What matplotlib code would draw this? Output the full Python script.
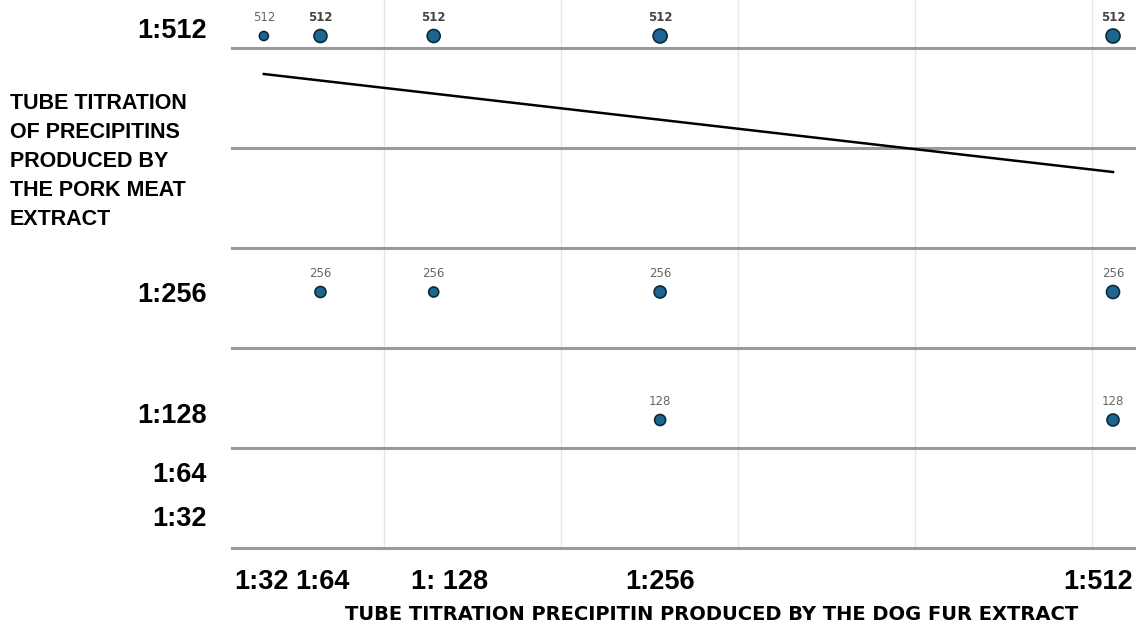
import matplotlib.pyplot as plt
from matplotlib.transforms import ScaledTranslation

# Dog fur titer (x) vs pork meat titer (y), reciprocal dilutions
dog_titer = [32, 64, 128, 256, 512, 64, 128, 256, 512, 256, 512]
pork_titer = [512, 512, 512, 512, 512, 256, 256, 256, 256, 128, 128]
point_labels = ['512', '512', '512', '512', '512', '256', '256', '256', '256', '128', '128']
bold_label = [False, True, True, True, True, False, False, False, False, False, False]
dot_size_px = [9, 13, 13, 14, 14, 11, 10, 12, 13, 11, 12]

# trend line end points
trend_x = [32, 512]
trend_y = [474, 376]

tick_values = [32, 64, 128, 256, 512]
tick_labels_x = ['1:32', '1:64', '1: 128', '1:256', '1:512']
tick_labels_y = ['1:32', '1:64', '1:128', '1:256', '1:512']

BOLD = ['Liberation Sans', 'DejaVu Sans']

fig = plt.figure(figsize=(11.36, 6.3), dpi=100)
ax = fig.add_axes([232 / 1136, 82 / 630, 904 / 1136, 548 / 630])
ax.set_xlim(14, 525)
ax.set_ylim(0, 548)

# grid
for gx in [100, 200, 300, 400, 500]:
    ax.axvline(gx, color='#e6e6e6', lw=1, zorder=0)
for gy in [0, 100, 200, 300, 400, 500]:
    ax.axhline(gy, color='#9a9a9a', lw=2.2, zorder=1, clip_on=False)

ax.plot(trend_x, trend_y, color='black', lw=1.8, zorder=2)

sizes = [(d / 1.389) ** 2 for d in dot_size_px]
ax.scatter(dog_titer, pork_titer, s=sizes, color='#1d6690', edgecolors='#0b2a3d',
           linewidths=1.2, zorder=3)

for x, y, lab, b in zip(dog_titer, pork_titer, point_labels, bold_label):
    ax.annotate(lab, (x, y), xytext=(0, 13.5), textcoords='offset points',
                ha='center', va='center', fontsize=8.5,
                fontweight='bold' if b else 'normal',
                color='#444444' if b else '#666666')

for s in ax.spines.values():
    s.set_visible(False)

ax.set_xticks(tick_values)
ax.set_xticklabels(tick_labels_x, fontsize=19.5, fontweight='bold', family=BOLD)
ax.set_yticks(tick_values)
ax.set_yticklabels(tick_labels_y, fontsize=19.5, fontweight='bold', family=BOLD)
ax.tick_params(axis='both', length=0)
ax.tick_params(axis='x', pad=15)
ax.tick_params(axis='y', pad=18)

# small label nudges (pixels) as in the original layout
x_shift = [-2, 2, 16, 0, -15]
y_shift = [0, 12, 7, 0, 8]
for lab, dx in zip(ax.get_xticklabels(), x_shift):
    lab.set_transform(lab.get_transform() + ScaledTranslation(dx / 100, 0, fig.dpi_scale_trans))
for lab, dy in zip(ax.get_yticklabels(), y_shift):
    lab.set_transform(lab.get_transform() + ScaledTranslation(0, dy / 100, fig.dpi_scale_trans))

fig.text(712 / 1136, 1 - 615 / 630, 'TUBE TITRATION PRECIPITIN PRODUCED BY THE DOG FUR EXTRACT',
         ha='center', va='center', fontsize=14, fontweight='bold', family='DejaVu Sans')
fig.text(10 / 1136, 1 - 93 / 630,
         'TUBE TITRATION\nOF PRECIPITINS\nPRODUCED BY\nTHE PORK MEAT\nEXTRACT',
         ha='left', va='top', fontsize=15.5, fontweight='bold', linespacing=1.5,
         family=BOLD)

fig.savefig('out.png', dpi=100)
